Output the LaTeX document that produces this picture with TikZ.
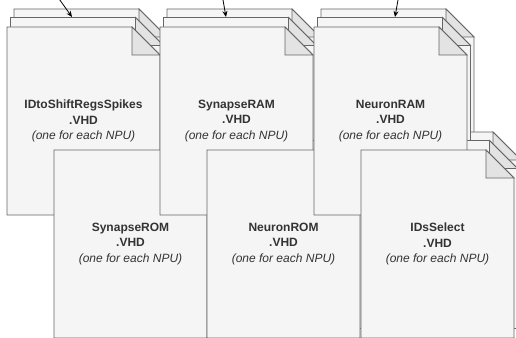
\documentclass[tikz,border=0pt]{standalone}
\usepackage{fontspec}
\setmainfont{Liberation Sans}
\usetikzlibrary{arrows.meta}
\definecolor{pagefill}{HTML}{F5F5F5}
\definecolor{pageline}{HTML}{666666}
\definecolor{foldfill}{HTML}{E3E3E3}
\definecolor{txtcol}{HTML}{333333}
\tikzset{
  pagebody/.style={fill=pagefill,draw=pageline,line width=0.8pt,line join=miter},
  pagefold/.style={fill=foldfill,draw=pageline,line width=0.8pt},
  doclabel/.style={align=center,text=txtcol,font=\fontsize{12}{15.5}\selectfont,inner sep=0pt},
  feed/.style={draw=black,line width=0.8pt,-{Stealth[length=6pt,width=5pt]}}
}
\newcommand{\docpage}[2]{%
  \begin{scope}[shift={(#1,#2)}]
    \path[pagebody] (0,0) -- (125,0) -- (153,28) -- (153,188) -- (0,188) -- cycle;
    \path[pagefold] (125,0) -- (125,28) -- (153,28) -- cycle;
  \end{scope}}
\begin{document}
\begin{tikzpicture}[x=1pt,y=-1pt]
\useasboundingbox (0,0) rectangle (516,337);
\clip (0,0) rectangle (516,337);
% third (rearmost) pages
\docpage{14}{9}
\docpage{167}{9}
\docpage{321}{9}
\docpage{61}{132}
\docpage{214}{132}
\docpage{368}{132}
% second pages
\docpage{10.5}{17.5}
\docpage{163.5}{17.5}
\docpage{317.5}{17.5}
\docpage{57.5}{140.5}
\docpage{210.5}{140.5}
\docpage{364.5}{140.5}
% front pages, interleaved
\docpage{7}{27}
\docpage{54}{150}
\docpage{160}{27}
\docpage{207}{150}
\docpage{314}{27}
\docpage{361}{150}
% labels
\node[doclabel] (d1) at (83.5,121) {\textbf{IDtoShiftRegsSpikes}\\\textbf{.VHD}\\\textit{(one for each NPU)}};
\node[doclabel] (d2) at (236.5,121) {\textbf{SynapseRAM}\\\textbf{.VHD}\\\textit{(one for each NPU)}};
\node[doclabel] (d3) at (390.5,121) {\textbf{NeuronRAM}\\\textbf{.VHD}\\\textit{(one for each NPU)}};
\node[doclabel] (d4) at (130.5,244) {\textbf{SynapseROM}\\\textbf{.VHD}\\\textit{(one for each NPU)}};
\node[doclabel] (d5) at (283.5,244) {\textbf{NeuronROM}\\\textbf{.VHD}\\\textit{(one for each NPU)}};
\node[doclabel] (d6) at (437.5,244) {\textbf{IDsSelect}\\\textbf{.VHD}\\\textit{(one for each NPU)}};
% arrows from above
\coordinate (s1) at (57,-4);
\coordinate (e1) at (72,17);
\coordinate (s2) at (222.3,-4);
\coordinate (e2) at (226,17);
\coordinate (s3) at (398.7,-4);
\coordinate (e3) at (395,17);
\draw[feed] (s1) -- (e1);
\draw[feed] (s2) -- (e2);
\draw[feed] (s3) -- (e3);
\end{tikzpicture}
\end{document}
